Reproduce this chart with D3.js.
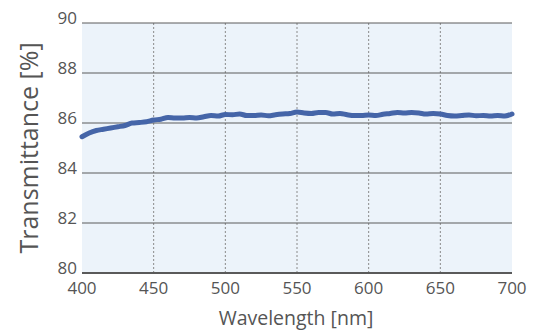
<!DOCTYPE html>
<html>
<head>
<meta charset="utf-8">
<script src="https://d3js.org/d3.v7.min.js"></script>
<style>
  body { margin: 0; background: #fff; }
  svg { display: block; font-family: "Open Sans", "DejaVu Sans", sans-serif; }
</style>
</head>
<body>
<svg id="chart" width="544" height="331"></svg>
<script>
// wavelength samples [nm] and transmittance [%]
const wavelength = [400, 405, 410, 415, 420, 425, 430, 435, 440, 445, 450, 455, 460, 465, 470, 475, 480, 485, 490, 495,
  500, 505, 510, 515, 520, 525, 530, 535, 540, 545, 550, 555, 560, 565, 570, 575, 580, 585, 590, 595,
  600, 605, 610, 615, 620, 625, 630, 635, 640, 645, 650, 655, 660, 665, 670, 675, 680, 685, 690, 695, 700];
const transmittance = [85.45, 85.6, 85.7, 85.75, 85.8, 85.85, 85.9, 86.0, 86.02, 86.05, 86.12, 86.15, 86.22, 86.2, 86.2, 86.22, 86.2, 86.25, 86.3, 86.28,
  86.34, 86.33, 86.36, 86.3, 86.3, 86.32, 86.29, 86.33, 86.36, 86.38, 86.44, 86.4, 86.38, 86.42, 86.42, 86.36, 86.38, 86.33, 86.3, 86.3,
  86.32, 86.3, 86.35, 86.38, 86.42, 86.4, 86.42, 86.4, 86.36, 86.38, 86.36, 86.3, 86.28, 86.3, 86.32, 86.29, 86.3, 86.28, 86.3, 86.28, 86.36];
const xTicks = [400, 450, 500, 550, 600, 650, 700];
const yTicks = [80, 82, 84, 86, 88, 90];

const svg = d3.select("#chart");
const plotL = 82, plotR = 512, plotT = 23, plotB = 273;

const x = d3.scaleLinear().domain([400, 700]).range([plotL, plotR]);
const y = d3.scaleLinear().domain([80, 90]).range([plotB, plotT]);

// plot background
svg.append("rect")
  .attr("x", plotL).attr("y", plotT)
  .attr("width", plotR - plotL).attr("height", plotB - plotT)
  .attr("fill", "#ecf3fa");

// vertical dotted grid
svg.append("g")
  .selectAll("line")
  .data(xTicks.slice(1, -1))
  .join("line")
  .attr("x1", d => x(d)).attr("x2", d => x(d))
  .attr("y1", plotT).attr("y2", plotB)
  .attr("stroke", "#8a8a8a")
  .attr("stroke-width", 1)
  .attr("stroke-dasharray", "2,2");

// horizontal grid
svg.append("g")
  .selectAll("line")
  .data(yTicks)
  .join("line")
  .attr("x1", plotL).attr("x2", plotR)
  .attr("y1", d => y(d)).attr("y2", d => y(d))
  .attr("stroke", "#5a5a5a")
  .attr("stroke-width", d => d === 80 ? 2 : 1);

// y tick labels
svg.append("g")
  .selectAll("text")
  .data(yTicks)
  .join("text")
  .attr("x", plotL - 5)
  .attr("y", d => y(d) + 1)
  .attr("text-anchor", "end")
  .attr("font-size", 17)
  .attr("fill", "#555")
  .text(d => d);

// x tick labels
svg.append("g")
  .selectAll("text")
  .data(xTicks)
  .join("text")
  .attr("x", d => x(d))
  .attr("y", 294)
  .attr("text-anchor", "middle")
  .attr("font-size", 17)
  .attr("fill", "#555")
  .text(d => d);

// axis titles
svg.append("text")
  .attr("x", 296).attr("y", 325)
  .attr("text-anchor", "middle")
  .attr("font-size", 19.5)
  .attr("fill", "#555")
  .text("Wavelength [nm]");

svg.append("text")
  .attr("transform", "translate(38,148) rotate(-90)")
  .attr("text-anchor", "middle")
  .attr("font-size", 25)
  .attr("fill", "#555")
  .text("Transmittance [%]");

// curve
const line = d3.line()
  .x((d, i) => x(wavelength[i]))
  .y(d => y(d))
  .curve(d3.curveMonotoneX);

svg.append("path")
  .datum(transmittance)
  .attr("d", line)
  .attr("fill", "none")
  .attr("stroke", "#4565a8")
  .attr("stroke-width", 5)
  .attr("stroke-linecap", "round");
</script>
</body>
</html>
